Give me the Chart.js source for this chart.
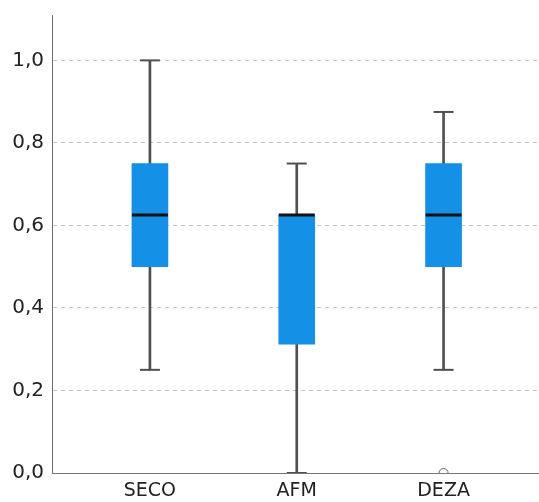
<!DOCTYPE html>
<html>
<head>
<meta charset="utf-8">
<script src="https://cdn.jsdelivr.net/npm/chart.js@4"></script>
<style>
  html, body { margin: 0; padding: 0; background: #fff; }
</style>
</head>
<body>
<canvas id="boxChart" width="539" height="502"></canvas>
<script>
// box plot values
const categories = ['SECO', 'AFM', 'DEZA'];
const whiskerLow = [0.25, 0.0, 0.25];
const q1 = [0.5, 0.3125, 0.5];
const medians = [0.625, 0.625, 0.625];
const q3 = [0.75, 0.625, 0.75];
const whiskerHigh = [1.0, 0.75, 0.875];
const outliers = [[], [], [0.0]];
const yTicks = [0, 0.2, 0.4, 0.6, 0.8, 1.0];
const yTickLabels = ['0,0', '0,2', '0,4', '0,6', '0,8', '1,0'];

const boxColor = '#1490e6';
const whiskerColor = '#505050';

Chart.defaults.font.family = 'DejaVu Sans';
Chart.defaults.font.size = 19;
Chart.defaults.color = '#222222';

const whiskerData = categories.map((c, i) => ({ x: i + 1, y: [whiskerLow[i], whiskerHigh[i]] }));
const boxData = categories.map((c, i) => ({ x: i + 1, y: [q1[i], q3[i]] }));
const capData = [];
categories.forEach((c, i) => {
    capData.push({ x: i + 1, y: whiskerLow[i] });
    capData.push({ x: i + 1, y: whiskerHigh[i] });
});
const medianData = categories.map((c, i) => ({ x: i + 1, y: medians[i] }));
const outlierData = [];
outliers.forEach((list, i) => {
    list.forEach(v => outlierData.push({ x: i + 1, y: v }));
});

const ctx = document.getElementById('boxChart').getContext('2d');
const boxChart = new Chart(ctx, {
    type: 'bar',
    data: {
        datasets: [
            {
                type: 'bar',
                data: whiskerData,
                backgroundColor: whiskerColor,
                barThickness: 2,
                grouped: false,
                order: 4
            },
            {
                type: 'bar',
                data: boxData,
                backgroundColor: boxColor,
                barThickness: 36,
                grouped: false,
                order: 3
            },
            {
                type: 'scatter',
                data: capData,
                pointStyle: 'line',
                radius: 10,
                borderColor: whiskerColor,
                borderWidth: 2,
                order: 2
            },
            {
                type: 'scatter',
                data: medianData,
                pointStyle: 'line',
                radius: 18,
                borderColor: '#111111',
                borderWidth: 3,
                order: 1
            },
            {
                type: 'scatter',
                data: outlierData,
                pointStyle: 'circle',
                radius: 4.5,
                backgroundColor: '#ffffff',
                borderColor: '#666666',
                borderWidth: 1,
                clip: { left: 8, top: 8, right: 8, bottom: 0 },
                order: 0
            }
        ]
    },
    options: {
        responsive: false,
        animation: false,
        events: [],
        layout: { autoPadding: false, padding: { top: 15, left: 0, right: 0, bottom: 0 } },
        plugins: {
            legend: { display: false },
            tooltip: { enabled: false }
        },
        scales: {
            x: {
                type: 'linear',
                min: 0.333,
                max: 3.65,
                offset: false,
                grid: { display: false, drawTicks: false, offset: false },
                border: { display: true, color: '#777777', width: 1 },
                afterBuildTicks: scale => {
                    scale.ticks = categories.map((c, i) => ({ value: i + 1 }));
                },
                afterFit: scale => {
                    scale.height = 29;
                    scale.paddingLeft = 0;
                    scale.paddingRight = 0;
                },
                ticks: {
                    padding: 7,
                    maxRotation: 0,
                    callback: (value, index) => categories[index]
                }
            },
            y: {
                type: 'linear',
                min: 0,
                max: 1.11,
                afterBuildTicks: scale => {
                    scale.ticks = yTicks.map(v => ({ value: v }));
                },
                afterFit: scale => {
                    scale.width = 52;
                    scale.paddingTop = 0;
                    scale.paddingBottom = 0;
                },
                grid: {
                    drawTicks: false,
                    lineWidth: 1,
                    color: c => (c.tick && c.tick.value === 0) ? 'rgba(0,0,0,0)' : '#c4c4c4'
                },
                border: { display: true, color: '#707070', width: 1, dash: [4, 4] },
                ticks: {
                    padding: 8,
                    font: { size: 20 },
                    callback: (value, index) => yTickLabels[index]
                }
            }
        }
    }
});
</script>
</body>
</html>
